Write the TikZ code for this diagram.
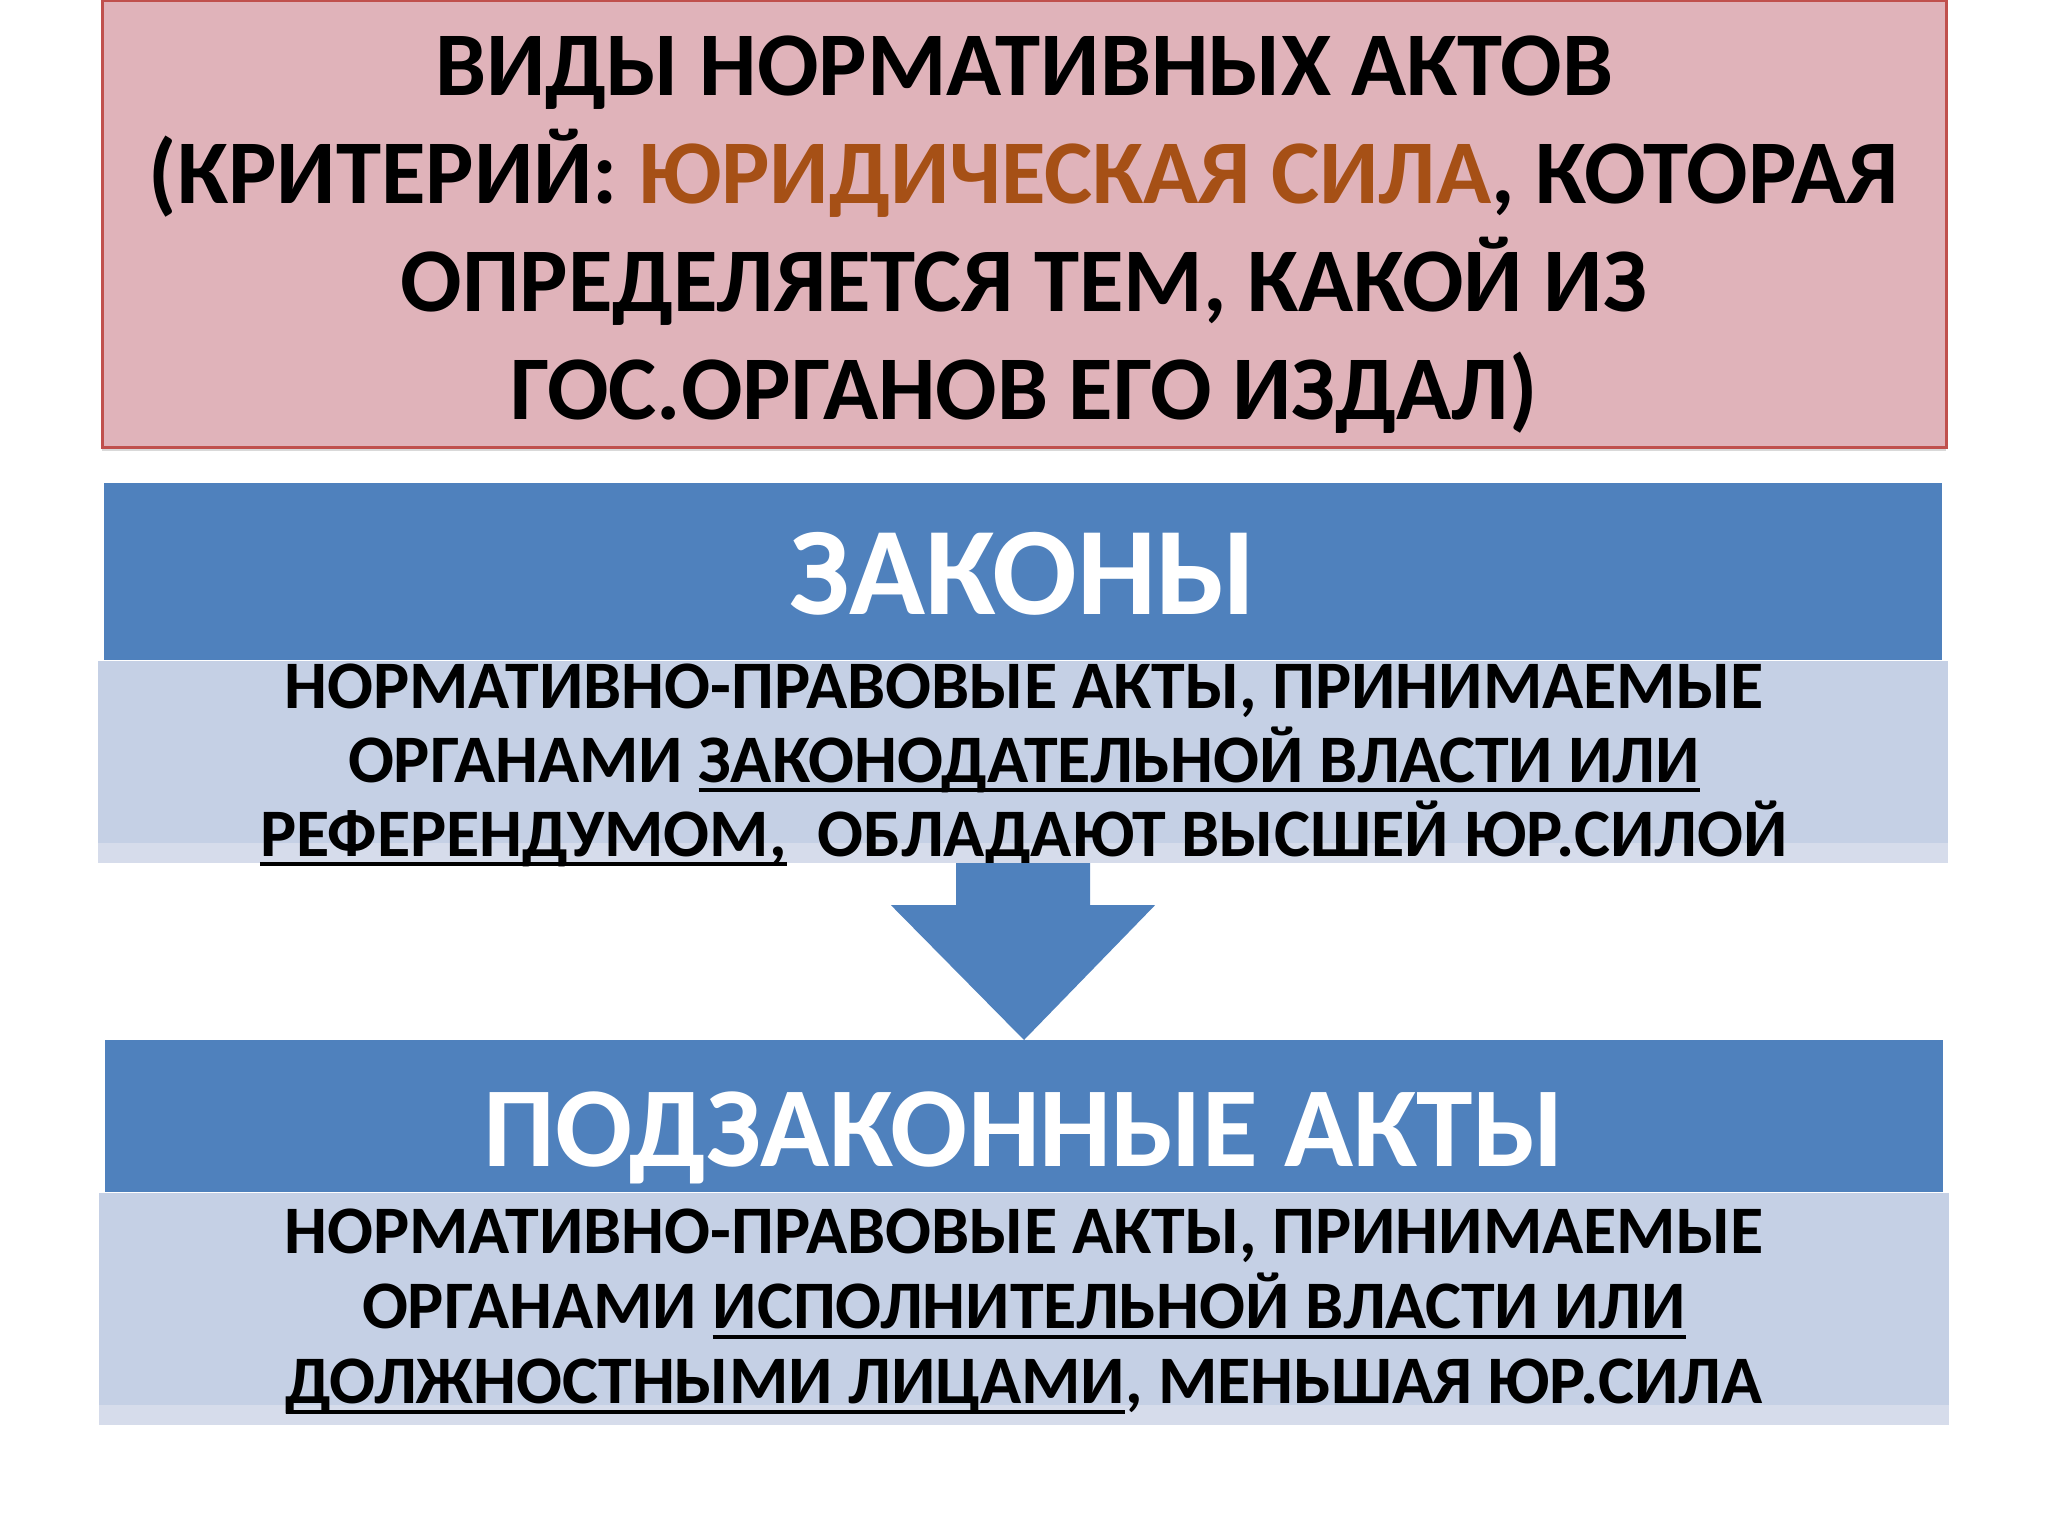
\documentclass[tikz,border=0pt]{standalone}
\usepackage{fontspec}
\setmainfont{Carlito}
\usetikzlibrary{positioning,calc,shadows}

\definecolor{titlefill}{RGB}{224,179,186}
\definecolor{titleline}{RGB}{192,80,77}
\definecolor{barblue}{RGB}{79,129,189}
\definecolor{paleblue}{RGB}{197,208,229}
\definecolor{palestrip}{RGB}{214,220,235}
\definecolor{forcebrown}{RGB}{166,80,22}

% thick underline
\newcommand{\undl}[1]{\setbox0\hbox{#1}\rlap{\rule[-5pt]{\wd0}{2pt}}\box0}

\tikzset{
  titlebox/.style={draw=titleline, line width=1.5pt, fill=titlefill,
    minimum width=922pt, minimum height=223pt, inner sep=0pt,
    drop shadow={opacity=0.3, shadow xshift=0pt, shadow yshift=-2pt}},
  titletext/.style={anchor=north, inner sep=0pt, align=center,
    font=\bfseries\fontsize{45.5}{54}\selectfont},
  headbar/.style={fill=barblue, text=white, minimum width=919pt, inner sep=0pt,
    text depth=0pt},
  descbox/.style={fill=paleblue, minimum width=925pt, inner sep=0pt,
    path picture={\fill[palestrip] (path picture bounding box.south west)
      rectangle ([yshift=10pt]path picture bounding box.south east);}},
  desctext/.style={anchor=north, inner sep=0pt, align=center,
    font=\bfseries\fontsize{34}{37}\selectfont},
}

\begin{document}
\begin{tikzpicture}[x=0.5pt,y=-0.5pt]
\useasboundingbox (0,0) rectangle (2048,1536);

\node[titlebox] (title) at (1024,224) {};
\node[titletext] (titleTxt) at (1024,14.6) {\rule{0pt}{40pt}ВИДЫ НОРМАТИВНЫХ АКТОВ\\
(КРИТЕРИЙ: \textcolor{forcebrown}{ЮРИДИЧЕСКАЯ СИЛА}, КОТОРАЯ\\
ОПРЕДЕЛЯЕТСЯ ТЕМ, КАКОЙ ИЗ\\
ГОС.ОРГАНОВ ЕГО ИЗДАЛ)};

% laws
\node[headbar, minimum height=88.5pt, text height=42.5pt,
  font=\bfseries\fontsize{62.7}{72}\selectfont] (zakony) at (1023,571.5) {ЗАКОНЫ};
\node[descbox, minimum height=101pt, below=0pt of zakony] (zakonyBox) {};
\node[desctext] (zakonyTxt) at (1024,651.6)
  {\rule{0pt}{28pt}НОРМАТИВНО-ПРАВОВЫЕ АКТЫ, ПРИНИМАЕМЫЕ\\
   ОРГАНАМИ \undl{ЗАКОНОДАТЕЛЬНОЙ ВЛАСТИ ИЛИ}\\
   \undl{РЕФЕРЕНДУМОМ,}\ \ ОБЛАДАЮТ ВЫСШЕЙ ЮР.СИЛОЙ};

% block arrow
\fill[barblue] ($(zakonyBox.south)+(-67,0)$) -- ($(zakonyBox.south)+(-67,42)$)
  -- ($(zakonyBox.south)+(-132,42)$) -- (1024,1040) coordinate (tip)
  -- ($(zakonyBox.south)+(132,42)$) -- ($(zakonyBox.south)+(67,42)$)
  -- ($(zakonyBox.south)+(67,0)$) -- cycle;

% by-laws
\node[headbar, minimum height=76pt, text height=50pt,
  font=\bfseries\fontsize{57}{68}\selectfont, below=0pt of tip] (podzak) {ПОДЗАКОННЫЕ АКТЫ};
\node[descbox, minimum height=116pt, below=0pt of podzak] (podzakBox) {};
\node[desctext, font=\bfseries\fontsize{34}{37.5}\selectfont] (podzakTxt) at (1024,1197.5)
  {\rule{0pt}{28pt}НОРМАТИВНО-ПРАВОВЫЕ АКТЫ, ПРИНИМАЕМЫЕ\\
   ОРГАНАМИ \undl{ИСПОЛНИТЕЛЬНОЙ ВЛАСТИ ИЛИ}\\
   \undl{ДОЛЖНОСТНЫМИ ЛИЦАМИ}, МЕНЬШАЯ ЮР.СИЛА};
\end{tikzpicture}
\end{document}
